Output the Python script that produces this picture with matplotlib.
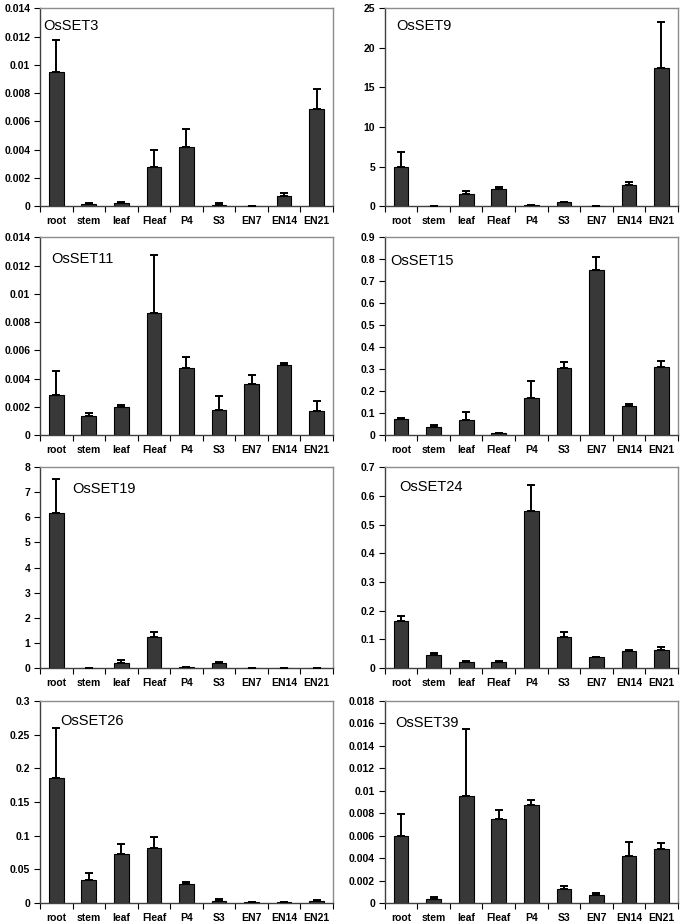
import numpy as np
import matplotlib
matplotlib.use("Agg")
import matplotlib.pyplot as plt
from matplotlib.ticker import FixedLocator, FuncFormatter

plt.rcParams['font.family'] = ['Liberation Sans', 'DejaVu Sans']

tissues = ['root', 'stem', 'leaf', 'Fleaf', 'P4', 'S3', 'EN7', 'EN14', 'EN21']

# mean expression and upper error per gene
set3 = [0.0095, 0.00015, 0.00025, 0.0028, 0.0042, 0.0001, 0.0, 0.0007, 0.0069]
set3_err = [0.00225, 0.0001, 0.00005, 0.0012, 0.00125, 0.0001, 0.0, 0.00025, 0.0014]

set9 = [5.0, 0.05, 1.55, 2.1, 0.15, 0.55, 0.05, 2.63, 17.4]
set9_err = [1.8, 0.0, 0.35, 0.25, 0.0, 0.0, 0.0, 0.38, 5.9]

set11 = [0.00287, 0.00134, 0.00198, 0.00866, 0.00478, 0.00181, 0.00365, 0.00494, 0.00169]
set11_err = [0.0017, 0.00026, 0.00014, 0.0041, 0.00075, 0.001, 0.0006, 0.00014, 0.0007]

set15 = [0.0735, 0.038, 0.069, 0.009, 0.171, 0.306, 0.750, 0.132, 0.312]
set15_err = [0.004, 0.008, 0.035, 0.003, 0.074, 0.029, 0.063, 0.012, 0.026]

set19 = [6.17, 0.02, 0.21, 1.22, 0.03, 0.2, 0.02, 0.02, 0.02]
set19_err = [1.36, 0.0, 0.1, 0.2, 0.01, 0.06, 0.0, 0.0, 0.0]

set24 = [0.163, 0.044, 0.0196, 0.0196, 0.548, 0.107, 0.037, 0.061, 0.063]
set24_err = [0.018, 0.008, 0.004, 0.004, 0.091, 0.02, 0.003, 0.003, 0.009]

set26 = [0.1855, 0.0347, 0.0729, 0.0818, 0.0278, 0.003, 0.001, 0.0012, 0.003]
set26_err = [0.074, 0.0095, 0.015, 0.016, 0.004, 0.003, 0.0005, 0.001, 0.001]

set39 = [0.00596, 0.00038, 0.0095, 0.00746, 0.00876, 0.00121, 0.00068, 0.00422, 0.00484]
set39_err = [0.002, 0.00012, 0.006, 0.00086, 0.0004, 0.0003, 0.0002, 0.00124, 0.00053]

paineis = [
    ('OsSET3', set3, set3_err, 0.014, 0.002, (0.01, 0.91)),
    ('OsSET9', set9, set9_err, 25, 5, (0.04, 0.91)),
    ('OsSET11', set11, set11_err, 0.014, 0.002, (0.04, 0.89)),
    ('OsSET15', set15, set15_err, 0.9, 0.1, (0.017, 0.88)),
    ('OsSET19', set19, set19_err, 8, 1, (0.11, 0.89)),
    ('OsSET24', set24, set24_err, 0.7, 0.1, (0.05, 0.90)),
    ('OsSET26', set26, set26_err, 0.3, 0.05, (0.07, 0.90)),
    ('OsSET39', set39, set39_err, 0.018, 0.002, (0.037, 0.89)),
]

# posicoes dos eixos em fracao da figura (linhas de cima para baixo)
linhas = [(0.777, 0.214), (0.529, 0.214), (0.277, 0.2175), (0.0227, 0.2186)]
colunas = [0.0583, 0.561]

fig = plt.figure(figsize=(6.86, 9.24), dpi=100)

fmt = FuncFormatter(lambda v, p: f"{round(v, 6):.6g}")

for i, (nome, vals, errs, ymax, passo, pos_txt) in enumerate(paineis):
    b, h = linhas[i // 2]
    l = colunas[i % 2]
    ax = fig.add_axes([l, b, 0.427, h])
    x = np.arange(len(tissues))
    ax.bar(x, vals, width=0.45, color='#383838', edgecolor='black', linewidth=0.8, zorder=2)
    ax.errorbar(x, vals, yerr=[np.zeros(len(vals)), errs], fmt='none', ecolor='black',
                elinewidth=1.4, capsize=3, capthick=1.4, zorder=3)
    ax.set_xlim(-0.5, len(tissues) - 0.5)
    ax.set_ylim(0, ymax)
    ax.set_yticks(np.arange(0, ymax + passo / 2, passo))
    ax.yaxis.set_major_formatter(fmt)
    ax.set_xticks(x)
    ax.set_xticklabels(tissues)
    ax.xaxis.set_minor_locator(FixedLocator(np.arange(-0.5, len(tissues), 1.0)))
    ax.tick_params(axis='x', which='major', length=0, pad=7)
    ax.tick_params(axis='x', which='minor', length=4, width=0.8, direction='out')
    ax.tick_params(axis='y', length=4, width=0.8, direction='out', pad=3)
    for lab in ax.get_xticklabels() + ax.get_yticklabels():
        lab.set_fontsize(7.5)
        lab.set_fontweight('bold')
    for s in ['top', 'right']:
        ax.spines[s].set_color('#8c8c8c')
        ax.spines[s].set_linewidth(1.0)
    for s in ['left', 'bottom']:
        ax.spines[s].set_color('#404040')
        ax.spines[s].set_linewidth(1.0)
    ax.text(pos_txt[0], pos_txt[1], nome, transform=ax.transAxes, fontsize=10.5,
            ha='left', va='center')

fig.savefig('out.png', dpi=100)
